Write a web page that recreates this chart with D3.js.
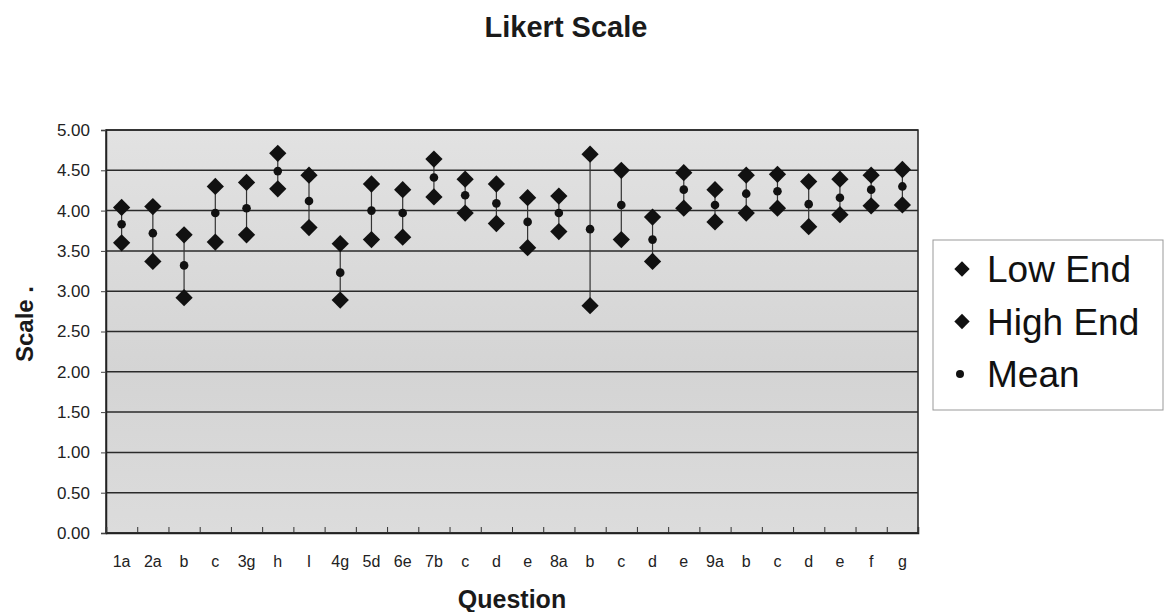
<!DOCTYPE html>
<html>
<head>
<meta charset="utf-8">
<script src="https://cdn.jsdelivr.net/npm/d3@7"></script>
<style>
  body { margin: 0; background: #fff; }
  svg { font-family: "Liberation Sans", Arial, sans-serif; }
</style>
</head>
<body>
<div id="chart"></div>
<script>
// questions on the x axis (labels repeat, so position by index)
const questions = ["1a", "2a", "b", "c", "3g", "h", "I", "4g", "5d", "6e", "7b", "c", "d", "e",
                   "8a", "b", "c", "d", "e", "9a", "b", "c", "d", "e", "f", "g"];
const lowEnd  = [3.60, 3.37, 2.92, 3.61, 3.70, 4.27, 3.79, 2.89, 3.64, 3.67, 4.17, 3.97, 3.84,
                 3.54, 3.74, 2.82, 3.64, 3.37, 4.03, 3.86, 3.97, 4.03, 3.80, 3.95, 4.06, 4.07];
const highEnd = [4.04, 4.05, 3.70, 4.30, 4.35, 4.71, 4.44, 3.59, 4.33, 4.26, 4.64, 4.39, 4.33,
                 4.16, 4.18, 4.70, 4.50, 3.92, 4.47, 4.26, 4.44, 4.45, 4.36, 4.39, 4.44, 4.51];
const mean    = [3.83, 3.72, 3.32, 3.97, 4.03, 4.49, 4.12, 3.23, 4.00, 3.97, 4.41, 4.19, 4.09,
                 3.86, 3.97, 3.77, 4.07, 3.64, 4.26, 4.07, 4.21, 4.24, 4.08, 4.16, 4.26, 4.30];
const yTicks = [0, 0.5, 1, 1.5, 2, 2.5, 3, 3.5, 4, 4.5, 5];
const legendItems = ["Low End", "High End", "Mean"];

const width = 1167;
const height = 612;
const plot = {left: 106, right: 918, top: 130, bottom: 533};

const svg = d3.select("#chart")
    .append("svg")
    .attr("width", width)
    .attr("height", height);

const x = d3.scaleLinear().domain([0, questions.length]).range([plot.left, plot.right]);
const y = d3.scaleLinear().domain([0, 5]).range([plot.bottom, plot.top]);

// plot area background
const grad = svg.append("defs").append("linearGradient")
    .attr("id", "bg").attr("x1", 0).attr("y1", 0).attr("x2", 0).attr("y2", 1);
grad.append("stop").attr("offset", "0%").attr("stop-color", "#e2e2e2");
grad.append("stop").attr("offset", "60%").attr("stop-color", "#d4d4d4");
grad.append("stop").attr("offset", "100%").attr("stop-color", "#dcdcdc");

svg.append("rect")
    .attr("x", plot.left).attr("y", plot.top)
    .attr("width", plot.right - plot.left).attr("height", plot.bottom - plot.top)
    .attr("fill", "url(#bg)")
    .attr("stroke", "#222").attr("stroke-width", 1.5);

// horizontal gridlines
svg.append("g")
    .selectAll("line")
    .data(yTicks)
    .enter()
    .append("line")
    .attr("x1", plot.left).attr("x2", plot.right)
    .attr("y1", d => y(d)).attr("y2", d => y(d))
    .attr("stroke", "#2a2a2a").attr("stroke-width", 1.5);

// y axis
const yAxis = svg.append("g")
    .attr("transform", `translate(${plot.left},0)`)
    .call(d3.axisLeft(y).tickValues(yTicks).tickFormat(d3.format(".2f")).tickSize(5).tickPadding(11));
yAxis.select(".domain").attr("stroke", "#222").attr("stroke-width", 1.5);
yAxis.selectAll("text").attr("font-size", 17).attr("fill", "#222")
    .attr("font-family", "'Liberation Sans', Arial, sans-serif");
yAxis.selectAll(".tick line").attr("stroke", "#444");

// x axis: inward ticks at category boundaries
const xAxis = svg.append("g")
    .attr("transform", `translate(0,${plot.bottom})`)
    .call(d3.axisBottom(x).tickValues(d3.range(0, questions.length + 1)).tickFormat("").tickSize(-6));
xAxis.select(".domain").attr("stroke", "#222").attr("stroke-width", 1.5);
xAxis.selectAll(".tick line").attr("stroke", "#333");

svg.append("g")
    .selectAll("text")
    .data(questions)
    .enter()
    .append("text")
    .attr("x", (d, i) => x(i + 0.5))
    .attr("y", 567)
    .attr("text-anchor", "middle")
    .attr("font-size", 16)
    .attr("fill", "#222")
    .text(d => d);

// high-low lines
svg.append("g")
    .selectAll("line")
    .data(questions)
    .enter()
    .append("line")
    .attr("x1", (d, i) => x(i + 0.5)).attr("x2", (d, i) => x(i + 0.5))
    .attr("y1", (d, i) => y(highEnd[i])).attr("y2", (d, i) => y(lowEnd[i]))
    .attr("stroke", "#333").attr("stroke-width", 1.2);

const diamond = d3.symbol().type(d3.symbolDiamond2).size(190);

function drawDiamonds(values) {
    svg.append("g")
        .selectAll("path")
        .data(values)
        .enter()
        .append("path")
        .attr("d", diamond)
        .attr("transform", (d, i) => `translate(${x(i + 0.5)},${y(d)})`)
        .attr("fill", "#111");
}
drawDiamonds(lowEnd);
drawDiamonds(highEnd);

svg.append("g")
    .selectAll("circle")
    .data(mean)
    .enter()
    .append("circle")
    .attr("cx", (d, i) => x(i + 0.5))
    .attr("cy", d => y(d))
    .attr("r", 4.3)
    .attr("fill", "#111");

// titles
svg.append("text")
    .attr("x", 566).attr("y", 37)
    .attr("text-anchor", "middle")
    .attr("font-size", 29).attr("font-weight", "bold").attr("fill", "#1a1a1a")
    .text("Likert Scale");

svg.append("text")
    .attr("x", 512).attr("y", 608)
    .attr("text-anchor", "middle")
    .attr("font-size", 25).attr("font-weight", "bold").attr("fill", "#1a1a1a")
    .text("Question");

svg.append("text")
    .attr("transform", "translate(33,324) rotate(-90)")
    .attr("text-anchor", "middle")
    .attr("font-size", 24).attr("font-weight", "bold").attr("fill", "#1a1a1a")
    .text("Scale .");

// legend
const legend = svg.append("g").attr("transform", "translate(933,240)");
legend.append("rect")
    .attr("width", 230).attr("height", 170)
    .attr("fill", "#fff").attr("stroke", "#999").attr("stroke-width", 1);

const item = legend.selectAll("g.item")
    .data(legendItems)
    .enter()
    .append("g")
    .attr("class", "item")
    .attr("transform", (d, i) => `translate(0,${29 + i * 52.5})`);

item.filter((d, i) => i < 2)
    .append("path")
    .attr("d", d3.symbol().type(d3.symbolDiamond2).size(150))
    .attr("transform", "translate(29,0)")
    .attr("fill", "#111");
item.filter((d, i) => i === 2)
    .append("circle")
    .attr("cx", 27).attr("r", 4)
    .attr("fill", "#111");

item.append("text")
    .attr("x", 54).attr("y", 13)
    .attr("font-size", 37).attr("fill", "#111")
    .text(d => d);
</script>
</body>
</html>
